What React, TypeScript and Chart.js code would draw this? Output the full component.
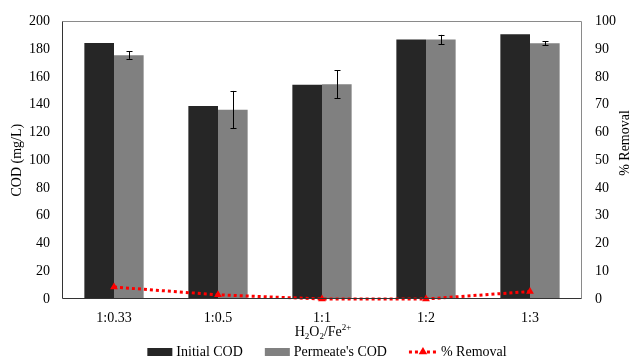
import React, { useEffect, useRef } from 'react';
import { Chart, registerables } from 'chart.js';
Chart.register(...registerables);

const categories = ['1:0.33', '1:0.5', '1:1', '1:2', '1:3'];
const initialCOD = [184.4, 139, 154.4, 187, 190.8];
const permeateCOD = [175.7, 136.4, 154.8, 187, 184.2];
const permeateErr = [2.7, 13.5, 10, 3.3, 1.4];
const removal = [4.3, 1.5, 0, 0, 2.7];
const seriesNames = ['Initial COD', "Permeate's COD", '% Removal'];

const FONT = '"Liberation Serif", "Times New Roman", serif';
const DARK = '#262626';
const GRAY = '#808080';
const RED = '#ff0000';

function drawTriangle(ctx: CanvasRenderingContext2D, x: number, y: number, r: number) {
  ctx.beginPath();
  ctx.moveTo(x, y - r);
  ctx.lineTo(x + r * 0.95, y + r * 0.6);
  ctx.lineTo(x - r * 0.95, y + r * 0.6);
  ctx.closePath();
  ctx.fill();
}

const customPlugin = {
  id: 'custom',
  afterDatasetsDraw(chart: any) {
    const ctx: CanvasRenderingContext2D = chart.ctx;
    const y = chart.scales.y;
    const meta = chart.getDatasetMeta(1);
    ctx.save();
    ctx.strokeStyle = '#000';
    ctx.lineWidth = 1;
    meta.data.forEach((el: any, i: number) => {
      const v = permeateCOD[i];
      const e = permeateErr[i];
      const x = Math.round(el.x) + 0.5;
      const yt = y.getPixelForValue(v + e);
      const yb = y.getPixelForValue(v - e);
      ctx.beginPath();
      ctx.moveTo(x, yt);
      ctx.lineTo(x, yb);
      ctx.moveTo(x - 3, Math.round(yt) + 0.5);
      ctx.lineTo(x + 3, Math.round(yt) + 0.5);
      ctx.moveTo(x - 3, Math.round(yb) + 0.5);
      ctx.lineTo(x + 3, Math.round(yb) + 0.5);
      ctx.stroke();
    });
    ctx.restore();
  },
  afterDraw(chart: any) {
    const ctx: CanvasRenderingContext2D = chart.ctx;
    const a = chart.chartArea;
    ctx.save();
    // frame
    const L = Math.round(a.left) + 0.5, R = Math.round(a.right) - 0.5;
    const T = Math.round(a.top) + 0.5, B = Math.round(a.bottom) - 0.5;
    ctx.lineWidth = 1;
    ctx.strokeStyle = '#8a8a8a';
    ctx.beginPath();
    ctx.moveTo(L, T); ctx.lineTo(R, T); ctx.lineTo(R, B);
    ctx.stroke();
    ctx.strokeStyle = '#333';
    ctx.beginPath();
    ctx.moveTo(L, T); ctx.lineTo(L, B); ctx.lineTo(R, B);
    ctx.stroke();

    ctx.fillStyle = '#000';
    // left title
    ctx.font = `14px ${FONT}`;
    ctx.textAlign = 'center';
    ctx.textBaseline = 'middle';
    ctx.save();
    ctx.translate(17, (a.top + a.bottom) / 2);
    ctx.rotate(-Math.PI / 2);
    ctx.fillText('COD (mg/L)', 0, 0);
    ctx.restore();
    // right title
    ctx.save();
    ctx.translate(625, 143);
    ctx.rotate(-Math.PI / 2);
    ctx.fillText('% Removal', 0, 0);
    ctx.restore();

    // x title H2O2/Fe2+
    const parts: [string, number][] = [['H', 0], ['2', 1], ['O', 0], ['2', 1], ['/Fe', 0], ['2+', -1]];
    const big = `14px ${FONT}`, small = `9px ${FONT}`;
    let total = 0;
    parts.forEach(([t, k]) => { ctx.font = k === 0 ? big : small; total += ctx.measureText(t).width; });
    let cx = (a.left + a.right) / 2 + 1 - total / 2;
    const by = 336;
    ctx.textAlign = 'left';
    ctx.textBaseline = 'alphabetic';
    parts.forEach(([t, k]) => {
      ctx.font = k === 0 ? big : small;
      const dy = k === 1 ? 3 : k === -1 ? -6 : 0;
      ctx.fillText(t, cx, by + dy);
      cx += ctx.measureText(t).width;
    });

    // legend
    ctx.font = `14px ${FONT}`;
    const symW = [25, 25, 28];
    const gapSym = 4, gapItem = 22;
    const tw = seriesNames.map((n) => ctx.measureText(n).width);
    let lw = 0;
    for (let i = 0; i < 3; i++) lw += symW[i] + gapSym + tw[i];
    lw += gapItem * 2;
    let lx = 327 - lw / 2;
    const ly = 352;
    ctx.textBaseline = 'middle';
    for (let i = 0; i < 3; i++) {
      if (i < 2) {
        ctx.fillStyle = i === 0 ? DARK : GRAY;
        ctx.fillRect(lx, ly - 4, symW[i], 8);
      } else {
        ctx.strokeStyle = RED;
        ctx.lineWidth = 3;
        ctx.setLineDash([3, 3]);
        ctx.beginPath();
        ctx.moveTo(lx, ly);
        ctx.lineTo(lx + symW[i], ly);
        ctx.stroke();
        ctx.setLineDash([]);
        ctx.fillStyle = RED;
        drawTriangle(ctx, lx + symW[i] / 2, ly - 0.5, 4.5);
      }
      lx += symW[i] + gapSym;
      ctx.fillStyle = '#000';
      ctx.fillText(seriesNames[i], lx, ly);
      lx += tw[i] + gapItem;
    }
    ctx.restore();
  },
};

export default function App() {
  const ref = useRef<HTMLCanvasElement>(null);
  useEffect(() => {
    if (!ref.current) return;
    const chart = new Chart(ref.current, {
      type: 'bar',
      data: {
        labels: categories,
        datasets: [
          { label: seriesNames[0], data: initialCOD, backgroundColor: DARK, yAxisID: 'y', order: 1,
            barPercentage: 1, categoryPercentage: 0.57 } as any,
          { label: seriesNames[1], data: permeateCOD, backgroundColor: GRAY, yAxisID: 'y', order: 1,
            barPercentage: 1, categoryPercentage: 0.57 } as any,
          { type: 'line', label: seriesNames[2], data: removal, yAxisID: 'y2', order: 0,
            borderColor: RED, borderWidth: 3, borderDash: [3, 3], backgroundColor: RED,
            pointStyle: 'triangle', pointRadius: 4.5, pointBorderWidth: 0, pointBackgroundColor: RED,
            fill: false, tension: 0, clip: false } as any,
        ],
      },
      options: {
        responsive: false,
        animation: false,
        layout: { padding: { top: 16, left: 0, right: 0, bottom: 0 } },
        plugins: { legend: { display: false }, tooltip: { enabled: false }, title: { display: false } },
        scales: {
          x: {
            offset: true,
            grid: { display: false, drawTicks: false, tickLength: 0 },
            border: { display: false },
            ticks: { color: '#000', font: { family: FONT, size: 14 }, padding: 11, maxRotation: 0 },
            afterFit: (s: any) => { s.height = 64; },
          },
          y: {
            position: 'left',
            min: 0, max: 200,
            grid: { display: false, drawTicks: false, tickLength: 0 },
            border: { display: false },
            ticks: { stepSize: 20, color: '#000', font: { family: FONT, size: 14 }, padding: 12 },
            afterFit: (s: any) => { s.width = 62; },
          },
          y2: {
            position: 'right',
            min: 0, max: 100,
            grid: { display: false, drawTicks: false, tickLength: 0 },
            border: { display: false },
            ticks: { stepSize: 10, color: '#000', font: { family: FONT, size: 14 }, padding: 13 },
            afterFit: (s: any) => { s.width = 51; },
          },
        },
      },
      plugins: [customPlugin],
    });
    return () => chart.destroy();
  }, []);
  return (
    <div style={{ position: 'fixed', left: 0, top: 0, width: 633, height: 363, background: '#fff' }}>
      <canvas ref={ref} width={633} height={363} style={{ display: 'block' }} />
    </div>
  );
}
